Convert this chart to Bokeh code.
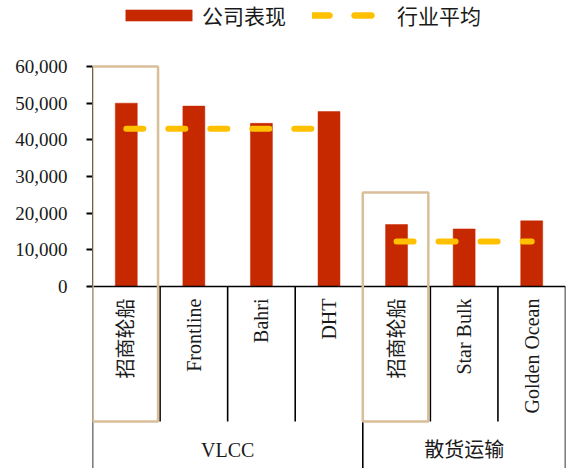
import math
from bokeh.plotting import figure
from bokeh.models import Range1d, FixedTicker, NumeralTickFormatter, Legend, LegendItem, BoxAnnotation, ColumnDataSource
from bokeh.core.properties import value
from bokeh.embed import file_html
from bokeh.resources import INLINE

# ---------------- data ----------------
companies = ["招商轮船", "Frontline", "Bahri", "DHT", "招商轮船", "Star Bulk", "Golden Ocean"]
segments = ["VLCC", "散货运输"]
segment_sizes = [4, 3]
company_perf = [50000, 49200, 44500, 47700, 16900, 15700, 17900]
industry_avg_vlcc = [43000, 43000, 43000, 43000]
industry_avg_bulk = [12300, 12300, 12300]
y_ticks = [0, 10000, 20000, 30000, 40000, 50000, 60000]
highlight_idx = [0, 4]

# ---------------- style ----------------
W, H = 568, 468
FRAME_L, FRAME_R = 92, 565
PX_ZERO, PX_TOP = 286, 66          # pixel rows of 0 and 60000
UNIT = 60000 / (PX_ZERO - PX_TOP)  # data units per pixel


def py(px):
    return (PX_ZERO - px) * UNIT


BAR_COLOR = "#C62800"
AVG_COLOR = "#FFC000"
BOX_COLOR = "#D9BF99"
TEXT_COLOR = "#1a1a1a"
SERIF = "Liberation Serif"
LATIN = "Liberation Serif, Noto Sans CJK SC"
CJK = "Noto Sans CJK SC"

n = len(companies)
centers = [i + 0.5 for i in range(n)]

p = figure(width=W, height=H, output_backend="svg", toolbar_location=None,
           x_range=Range1d(0, n), y_range=Range1d(py(H), py(0)),
           x_axis_location=None, min_border_left=FRAME_L, min_border_right=W - FRAME_R,
           min_border_top=0, min_border_bottom=0)
p.outline_line_color = None
p.xgrid.visible = False
p.ygrid.visible = False
p.background_fill_color = "white"
p.border_fill_color = "white"

# y axis
yax = p.yaxis[0]
yax.bounds = (y_ticks[0], y_ticks[-1])
yax.ticker = FixedTicker(ticks=y_ticks)
yax.formatter = NumeralTickFormatter(format="0,0")
yax.major_tick_in = 0
yax.major_tick_out = 6
yax.major_tick_line_width = 2
yax.minor_tick_line_color = None
yax.axis_line_color = "black"
yax.axis_line_width = 1
yax.major_label_standoff = 19
yax.major_label_text_font = SERIF
yax.major_label_text_font_size = "19px"
yax.major_label_text_color = TEXT_COLOR

# bars
src = ColumnDataSource(dict(x=centers, top=company_perf))
bars = p.vbar(x="x", top="top", bottom=0, width=0.325, source=src,
              fill_color=BAR_COLOR, line_color=BAR_COLOR, line_width=0.5)

# table lines below the axis
inner_bottom = py(421)
group_bounds = [0]
for s in segment_sizes:
    group_bounds.append(group_bounds[-1] + s)
x0s, y0s, x1s, y1s = [0], [0], [n], [0]
for b in range(n + 1):
    x0s.append(b)
    x1s.append(b)
    y0s.append(0)
    y1s.append(py(H) if b in group_bounds else inner_bottom)
p.segment(x0=x0s, y0=y0s, x1=x1s, y1=y1s, line_color="black", line_width=1.6)

# highlight boxes
box_tops = [60000, py(192)]
for idx, top in zip(highlight_idx, box_tops):
    p.add_layout(BoxAnnotation(left=idx, right=idx + 0.97, top=top, bottom=inner_bottom,
                               fill_alpha=0, line_color=BOX_COLOR, line_alpha=1.0,
                               line_width=2.5))

# industry average lines
l1 = p.line(x=centers[0:4], y=industry_avg_vlcc, line_color=AVG_COLOR, line_width=6,
            line_dash="17 25", line_cap="round")
l2 = p.line(x=centers[4:7], y=industry_avg_bulk, line_color=AVG_COLOR, line_width=6,
            line_dash="17 25", line_cap="round")

# category labels
p.text(x=centers, y=[py(298)] * n, text=companies, angle=math.pi / 2,
       text_align="right", text_baseline="middle", text_font=value(LATIN),
       text_font_size="20px", text_color=TEXT_COLOR)
group_centers = [(group_bounds[i] + group_bounds[i + 1]) / 2 for i in range(len(segments))]
p.text(x=group_centers, y=[py(449)] * len(segments), text=segments,
       text_align="center", text_baseline="middle", text_font=value(LATIN),
       text_font_size="20px", text_color=TEXT_COLOR)

# legend
legend = Legend(items=[LegendItem(label="公司表现", renderers=[bars]),
                       LegendItem(label="行业平均", renderers=[l1, l2])],
                orientation="horizontal", location=(25, H - 30),
                glyph_width=83, glyph_height=14, label_standoff=2, spacing=26,
                padding=0, margin=0, border_line_color=None, background_fill_alpha=0,
                label_text_font=CJK, label_text_font_size="21px", label_text_color=TEXT_COLOR)
p.add_layout(legend)

open("out.html", "w").write(file_html(p, INLINE))
